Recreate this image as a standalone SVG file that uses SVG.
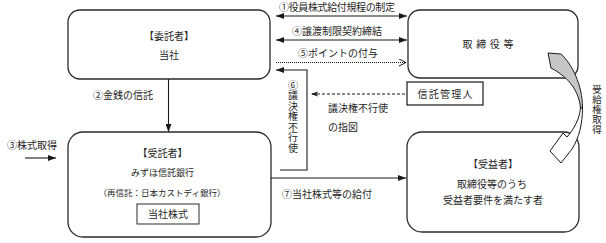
<svg xmlns="http://www.w3.org/2000/svg" width="606" height="243" viewBox="0 0 606 243">
<defs>
<style>
text{font-family:"Noto Sans CJK JP","Noto Sans CJK SC",sans-serif;font-size:10px;fill:#262626}
.box{fill:#fff;stroke:#2a2a2a;stroke-width:1.3}
.ln{fill:none;stroke:#1a1a1a;stroke-width:1.1}
.mid{text-anchor:middle}
.vt{writing-mode:vertical-rl;text-orientation:upright}
</style>
<marker id="ah" viewBox="0 0 8 6" refX="8" refY="3" markerWidth="8" markerHeight="6" markerUnits="userSpaceOnUse" orient="auto-start-reverse">
<path d="M0,0 L8,3 L0,6 Z" fill="#1a1a1a"/>
</marker>
<marker id="ahs" viewBox="0 0 7 6" refX="7" refY="3" markerWidth="7" markerHeight="6" markerUnits="userSpaceOnUse" orient="auto-start-reverse">
<path d="M0,0.5 L7,3 L0,5.5 L1.5,3 Z" fill="#1a1a1a"/>
</marker>
<marker id="chev" viewBox="0 0 8 8" refX="7.5" refY="4" markerWidth="8" markerHeight="8" markerUnits="userSpaceOnUse" orient="auto">
<path d="M0.5,0.5 L7.5,4 L0.5,7.5" fill="none" stroke="#1a1a1a" stroke-width="1"/>
</marker>
</defs>
<rect width="606" height="243" fill="#fff"/>

<g id="itakusha">
<rect class="box" x="68" y="10" width="202" height="69" rx="12"/>
<text class="mid" x="169" y="39.5">【委託者】</text>
<text class="mid" x="169" y="58.5">当社</text>
</g>

<g id="torishimariyaku">
<rect class="box" x="408" y="10" width="170" height="68" rx="12"/>
<text class="mid" x="488" y="47.5" textLength="51">取締役等</text>
</g>

<g id="shintakukanrinin">
<rect class="box" x="407" y="82" width="76" height="23"/>
<text class="mid" x="445" y="98" textLength="55">信託管理人</text>
</g>

<g id="jutakusha">
<rect class="box" x="68" y="132" width="203" height="105" rx="15"/>
<text class="mid" x="162.5" y="157">【受託者】</text>
<text class="mid" x="162.5" y="175.5" style="font-size:9px">みずほ信託銀行</text>
<text class="mid" x="162" y="195.5" style="font-size:8.5px">（再信託：日本カストディ銀行）</text>
<rect x="137" y="204" width="62" height="20" fill="#fff" stroke="#2a2a2a" stroke-width="1"/>
<text class="mid" x="168" y="217.5">当社株式</text>
</g>

<g id="juekisha">
<rect class="box" x="407" y="132" width="172" height="100" rx="15"/>
<text class="mid" x="493" y="167.5">【受益者】</text>
<text class="mid" x="492" y="187.5">取締役等のうち</text>
<text class="mid" x="493" y="203.5">受益者要件を満たす者</text>
</g>

<g id="connectors">
<line class="ln" x1="276" y1="16" x2="407" y2="16" marker-start="url(#ah)" marker-end="url(#ah)"/>
<line class="ln" x1="276" y1="40" x2="407" y2="40" marker-start="url(#ah)" marker-end="url(#ah)"/>
<line class="ln" x1="276" y1="62.5" x2="406" y2="62.5" stroke-dasharray="1,1" marker-end="url(#chev)"/>
<polyline class="ln" points="280,170 307,170 307,70 276,70" marker-end="url(#ah)"/>
<line class="ln" x1="405" y1="94" x2="311" y2="94" stroke-dasharray="3,2" marker-end="url(#ahs)"/>
<line class="ln" x1="168.5" y1="79" x2="168.5" y2="132" marker-end="url(#ah)"/>
<line class="ln" x1="25" y1="158" x2="56" y2="158" marker-end="url(#ah)"/>
<line class="ln" x1="271" y1="178" x2="406" y2="178" marker-end="url(#ah)"/>
<path d="M548,53 L561,54 C572,64 582.5,85 582.5,108 L580.5,108 C579,92 570,78 551,68 Z" fill="#c6c6c6" stroke="#1a1a1a" stroke-width="1"/>
<path d="M582.5,108 C582.5,124 579,138 572,149 L561,163 L550,151 L563,133 L567,137 C574,129 579.5,119 580.5,108 Z" fill="#fff" stroke="#1a1a1a" stroke-width="1"/>
</g>

<g id="labels">
<text class="mid" x="337" y="11" textLength="116">①役員株式給付規程の制定</text>
<text class="mid" x="337" y="35">④譲渡制限契約締結</text>
<text class="mid" x="338" y="56.5">⑤ポイントの付与</text>
<text x="93" y="98.5">②金銭の信託</text>
<text x="7" y="148.5">③株式取得</text>
<text x="328" y="111.5">議決権不行使</text>
<text x="328" y="130.5">の指図</text>
<text x="282" y="197.5">⑦当社株式等の給付</text>
<text class="vt" x="293" y="80" style="letter-spacing:0.5px">⑥議決権不行使</text>
<text class="vt" x="597" y="85" style="font-size:9.5px;letter-spacing:0.5px">受給権取得</text>
</g>
</svg>
